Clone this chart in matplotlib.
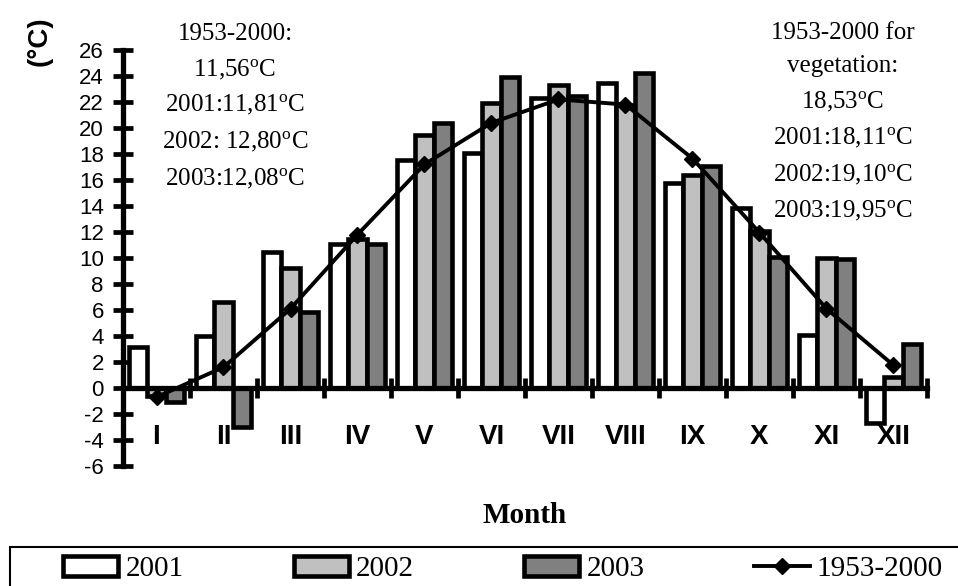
import numpy as np
import matplotlib
matplotlib.use('Agg')
import matplotlib.pyplot as plt
from matplotlib.patches import Rectangle, Patch
from matplotlib.lines import Line2D

# ---- data ----
months = ['I', 'II', 'III', 'IV', 'V', 'VI', 'VII', 'VIII', 'IX', 'X', 'XI', 'XII']
t2001 = [3.15, 4.0, 10.5, 11.1, 17.55, 18.1, 22.3, 23.45, 15.8, 13.85, 4.05, -2.7]
t2002 = [-0.6, 6.6, 9.2, 11.5, 19.5, 21.9, 23.3, 21.8, 16.4, 12.1, 10.0, 0.85]
t2003 = [-1.05, -3.0, 5.85, 11.1, 20.4, 23.9, 22.5, 24.2, 17.1, 10.1, 9.9, 3.4]
t_norm = [-0.7, 1.6, 6.1, 11.8, 17.2, 20.4, 22.2, 21.8, 17.65, 11.95, 6.1, 1.75]
series_labels = ['2001', '2002', '2003', '1953-2000']
yticks = list(range(-6, 27, 2))

left_note = ["1953-2000:", "11,56$^{\\mathrm{o}}$C", "2001:11,81$^{\\mathrm{o}}$C",
             "2002: 12,80$^{\\mathrm{o}}$C", "2003:12,08$^{\\mathrm{o}}$C"]
right_note = ["1953-2000 for", "vegetation:", "18,53$^{\\mathrm{o}}$C",
              "2001:18,11$^{\\mathrm{o}}$C", "2002:19,10$^{\\mathrm{o}}$C",
              "2003:19,95$^{\\mathrm{o}}$C"]

# ---- style ----
plt.rcParams['mathtext.fontset'] = 'custom'
plt.rcParams['mathtext.rm'] = 'Liberation Serif'
plt.rcParams['mathtext.it'] = 'Liberation Serif:italic'
plt.rcParams['mathtext.bf'] = 'Liberation Serif:bold'

W, H = 958, 586
fig = plt.figure(figsize=(W / 100, H / 100), dpi=100)


def fx(px):
    return px / W


def fy(py):
    return 1 - py / H


ax = fig.add_axes([fx(123), fy(466), (927 - 123) / W, (466 - 50) / H])
ax.set_facecolor('none')

x = np.arange(len(months)) + 0.5
bw = 0.27
edge_lw = 3.3
colors = ['white', '#C0C0C0', '#808080']
for off, vals, c in zip([-bw, 0, bw], [t2001, t2002, t2003], colors):
    ax.bar(x + off, vals, bw, color=c, edgecolor='black', linewidth=edge_lw, zorder=2)

ax.plot(x, t_norm, color='black', lw=2.8, marker='D', ms=8, zorder=4, clip_on=False)

ax.set_xlim(0, 12)
ax.set_ylim(-6, 26)
ax.set_yticks(yticks)
ax.set_yticklabels([str(v) for v in yticks], family='Liberation Sans', fontsize=16)
ax.set_xticks(range(0, 13))
ax.set_xticklabels([])
for s in ['top', 'right']:
    ax.spines[s].set_visible(False)
ax.spines['bottom'].set_position(('data', 0))
ax.spines['left'].set_linewidth(3.8)
ax.spines['bottom'].set_linewidth(3.8)
ax.tick_params(axis='both', direction='inout', width=3.4)
ax.tick_params(axis='y', length=13.7, pad=7)
ax.tick_params(axis='x', length=14.4)

for xi, m in zip(x, months):
    ax.text(xi, -4.27, m, ha='center', va='baseline', fontsize=20,
            fontweight='bold', family='Liberation Sans', zorder=5)

# notes
for line, base in zip(left_note, [40, 76, 111.7, 148.3, 185]):
    fig.text(fx(235), fy(base), line, ha='center', va='baseline',
             family='Liberation Serif', fontsize=18)
for line, base in zip(right_note, [39.3, 71.7, 108.3, 144, 181, 217.3]):
    fig.text(fx(843), fy(base), line, ha='center', va='baseline',
             family='Liberation Serif', fontsize=18)

# axis labels
fig.text(fx(40), fy(41), '(°C)', rotation=90, ha='center', va='center',
         family='Liberation Sans', fontweight='bold', fontsize=20)
fig.text(fx(524.5), fy(523), 'Month', ha='center', va='baseline',
         family='Liberation Serif', fontweight='bold', fontsize=21)

# legend
handles = [Patch(facecolor=c, edgecolor='black', linewidth=edge_lw) for c in colors]
handles.append(Line2D([], [], color='black', lw=2.8, marker='D', ms=8))
fig.legend(handles, series_labels, loc='center left',
           bbox_to_anchor=(fx(63), fy(569)), ncol=4, frameon=False,
           prop={'family': 'Liberation Serif', 'size': 21},
           borderpad=0, borderaxespad=0, handlelength=1.9, handleheight=0.7,
           handletextpad=0.24, columnspacing=3.77)
fig.add_artist(Rectangle((fx(10), -0.2), 1.2, fy(547) + 0.2, transform=fig.transFigure,
                         fill=False, edgecolor='black', linewidth=1.5))

fig.savefig('out.png', dpi=100)
